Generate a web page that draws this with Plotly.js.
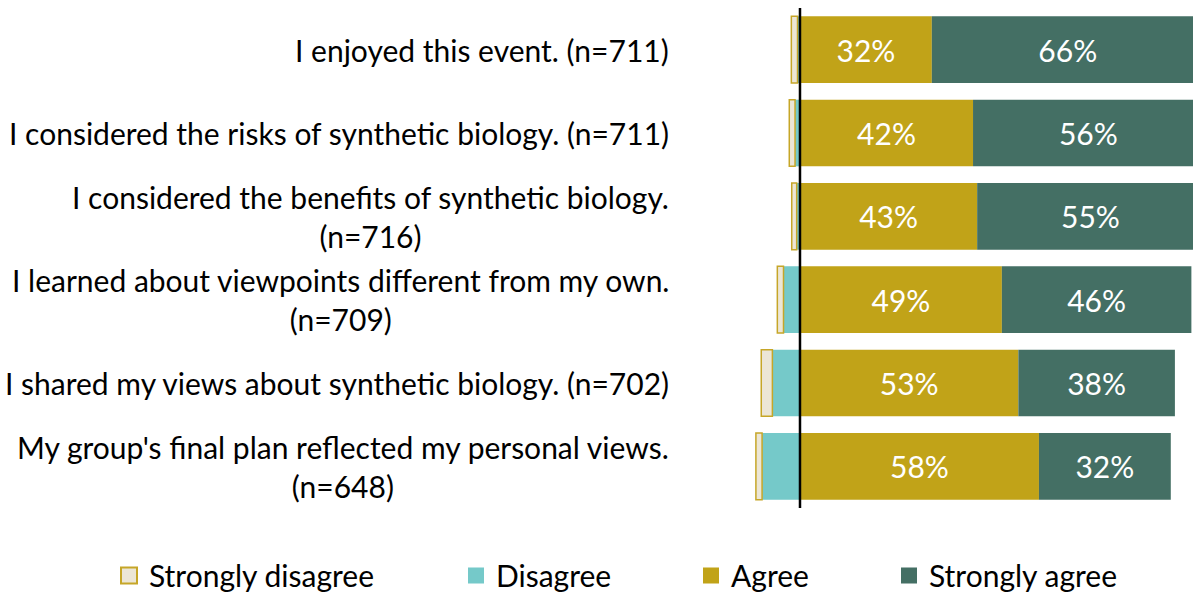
<!DOCTYPE html>
<html>
<head>
<meta charset="utf-8">
<script src="https://cdn.plot.ly/plotly-3.0.1.min.js"></script>
<style>html,body{margin:0;padding:0;background:#fff;} #chart{width:1194px;height:592px;}</style>
</head>
<body>
<div id="chart"></div>
<script>
// ---- data ----
var categories = [
  "I enjoyed this event. (n=711)",
  "I considered the risks of synthetic biology. (n=711)",
  "I considered the benefits of synthetic biology.<br>(n=716)",
  "I learned about viewpoints different from my own.<br>(n=709)",
  "I shared my views about synthetic biology. (n=702)",
  "My group's final plan reflected my personal views.<br>(n=648)"
];
var seriesNames = ["Strongly disagree", "Disagree", "Agree", "Strongly agree"];
var stronglyDisagree = [1.5, 1.4, 1.2, 1.5, 2.7, 1.5];
var disagree = [0.6, 1.2, 0.8, 4.0, 6.7, 9.2];
var agree = [32, 42, 43, 49, 53, 58];
var stronglyAgree = [66, 56, 55, 46, 38, 32];

// ---- style ----
var FONT = "Lato, 'Open Sans', sans-serif";
var FS = 30;
var colors = {sd: "#ECE6D6", sdLine: "#C6A628", d: "#75C9C9", a: "#C1A318", sa: "#446F64"};
var legendWidths = [302, 190, 153, 200];
function neg(arr){ return arr.map(function(v){ return -v; }); }

var traces = [
  {type:"bar", orientation:"h", name:seriesNames[1], y:categories, x:neg(disagree),
   marker:{color:colors.d}, showlegend:false, hoverinfo:"skip"},
  {type:"bar", orientation:"h", name:seriesNames[0], y:categories, x:neg(stronglyDisagree),
   marker:{color:colors.sd, line:{color:colors.sdLine, width:1.5}}, showlegend:false, hoverinfo:"skip"},
  {type:"bar", orientation:"h", name:seriesNames[2], y:categories, x:agree,
   marker:{color:colors.a}, showlegend:false, hoverinfo:"skip",
   texttemplate:"%{x}%", textposition:"inside", insidetextanchor:"middle",
   textfont:{family:FONT, size:FS, color:"#ffffff"}},
  {type:"bar", orientation:"h", name:seriesNames[3], y:categories, x:stronglyAgree,
   marker:{color:colors.sa}, showlegend:false, hoverinfo:"skip",
   texttemplate:"%{x}%", textposition:"inside", insidetextanchor:"middle",
   textfont:{family:FONT, size:FS, color:"#ffffff"}}
];

// legend entries (square swatches larger than the default bar swatch)
var legendStyles = [
  {color:colors.sd, line:{color:colors.sdLine, width:2}},
  {color:colors.d, line:{width:0}},
  {color:colors.a, line:{width:0}},
  {color:colors.sa, line:{width:0}}
];
seriesNames.forEach(function(n, i){
  traces.push({type:"scatter", mode:"markers", name:n, x:[null], y:[null],
    marker:{symbol:"square", size:20, color:legendStyles[i].color, line:legendStyles[i].line},
    legendwidth:legendWidths[i], hoverinfo:"skip", showlegend:true});
});

var annotations = categories.map(function(c){
  return {xref:"paper", yref:"y", x:671/1193, y:c, text:c, showarrow:false,
          xanchor:"right", yanchor:"middle", align:"center",
          font:{family:FONT, size:FS, color:"#000000"}};
});

var layout = {
  width:1194, height:592,
  margin:{l:0, r:1, t:8, b:84, pad:0, autoexpand:false},
  paper_bgcolor:"#ffffff", plot_bgcolor:"#ffffff",
  barmode:"relative", bargap:0.2,
  font:{family:FONT, size:FS, color:"#000000"},
  xaxis:{range:[-194.17, 95.39], showgrid:false, zeroline:false, showticklabels:false, ticks:"", showline:false, fixedrange:true},
  yaxis:{autorange:"reversed", showgrid:false, zeroline:false, showticklabels:false, ticks:"", showline:false, fixedrange:true},
  showlegend:true,
  legend:{orientation:"h", xref:"container", yref:"container", x:109/1194, xanchor:"left",
          y:16.5/592, yanchor:"middle", traceorder:"normal", itemsizing:"trace",
          font:{family:FONT, size:FS, color:"#000000"},
          bgcolor:"rgba(0,0,0,0)", borderwidth:0},
  shapes:[{type:"line", xref:"x", yref:"paper", x0:0, x1:0, y0:0, y1:1, line:{color:"#000000", width:2.5}}],
  annotations:annotations
};

Plotly.newPlot("chart", traces, layout, {displayModeBar:false, staticPlot:true});
</script>
</body>
</html>
